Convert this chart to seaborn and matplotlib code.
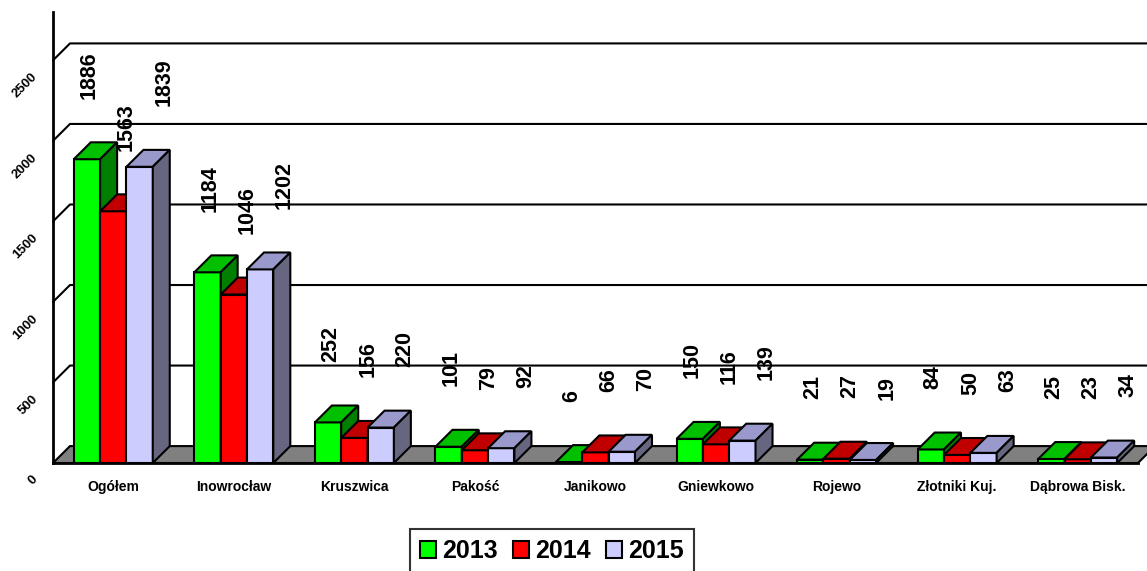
import numpy as np
import pandas as pd
import matplotlib
matplotlib.use("Agg")
import matplotlib.pyplot as plt
import seaborn as sns
from matplotlib.patches import Polygon, Patch
from matplotlib.transforms import ScaledTranslation

gminy = ["Ogółem", "Inowrocław", "Kruszwica", "Pakość", "Janikowo",
         "Gniewkowo", "Rojewo", "Złotniki Kuj.", "Dąbrowa Bisk."]
lata = ["2013", "2014", "2015"]
v2013 = [1886, 1184, 252, 101, 6, 150, 21, 84, 25]
v2014 = [1563, 1046, 156, 79, 66, 116, 27, 50, 23]
v2015 = [1839, 1202, 220, 92, 70, 139, 19, 63, 34]
y_ticks = [0, 500, 1000, 1500, 2000, 2500]

front = ["#00FF00", "#FF0000", "#CCCCFF"]
top = ["#00C000", "#C00000", "#9999CC"]
side = ["#007F00", "#800000", "#666680"]

df = pd.DataFrame({
    "gmina": gminy * 3,
    "rok": np.repeat(lata, len(gminy)),
    "wartosc": v2013 + v2014 + v2015,
})

sns.set_style("white")
plt.rcParams["font.family"] = ["Liberation Sans", "DejaVu Sans"]
plt.rcParams["text.color"] = "black"
plt.rcParams["xtick.color"] = "black"
plt.rcParams["ytick.color"] = "black"
plt.rcParams["axes.labelcolor"] = "black"

fig = plt.figure(figsize=(11.47, 5.71), dpi=100)
ax = fig.add_axes([53 / 1147, 108 / 571, 1085 / 1147, 451 / 571])

sns.barplot(data=df, x="gmina", y="wartosc", hue="rok", palette=front,
            width=0.655, gap=0, saturation=1, edgecolor="black",
            linewidth=1.5, legend=False, ax=ax)

ax.set_xlim(-0.5, len(gminy) - 0.5)
ax.set_ylim(0, 2800)

# depth of the fake 3d (17 px each way)
DX = 17 / 120.6
DY = 105
xr = len(gminy) - 0.5

# floor
ax.add_patch(Polygon([(-0.5, 0), (xr, 0), (xr + DX, DY), (-0.5 + DX, DY)],
                     closed=True, fc="#808080", ec="black", lw=1.5,
                     clip_on=False, zorder=1))

# back wall grid lines
for v in y_ticks[1:]:
    ax.plot([-0.5, -0.5 + DX, xr + DX + 1], [v, v + DY, v + DY],
            color="black", lw=1.5, clip_on=False, zorder=1.5)

for p in ax.patches[:]:
    if not isinstance(p, matplotlib.patches.Rectangle):
        continue
    w = p.get_width()
    x0 = p.get_x()
    x1 = x0 + w
    h = p.get_height()
    xc = x0 + w / 2
    j = int(round((xc - round(xc)) / w)) + 1
    z = 3 + j
    p.set_zorder(z)
    ax.add_patch(Polygon([(x0, h), (x1, h), (x1 + DX, h + DY), (x0 + DX, h + DY)],
                         closed=True, fc=top[j], ec="black", lw=1.5, zorder=z))
    ax.add_patch(Polygon([(x1, 0), (x1 + DX, DY), (x1 + DX, h + DY), (x1, h)],
                         closed=True, fc=side[j], ec="black", lw=1.5, zorder=z))
    ax.text(xc + DX / 2 + 0.04 + (j - 1) * 0.09, h + DY + 270, f"{h:.0f}",
            rotation=90, ha="center", va="bottom", fontsize=15.5,
            fontweight="bold", color="black", zorder=10)

for s in ["top", "right"]:
    ax.spines[s].set_visible(False)
for s in ["left", "bottom"]:
    ax.spines[s].set_linewidth(2)
    ax.spines[s].set_color("black")
    ax.spines[s].set_zorder(2)

ax.set_xlabel("")
ax.set_ylabel("")
ax.set_yticks(y_ticks)
ax.set_yticklabels([str(t) for t in y_ticks], fontsize=9.5, fontweight="bold",
                   rotation=45, rotation_mode="anchor", ha="right", va="center")
ax.tick_params(axis="y", length=7, width=1.5, pad=5.5, color="black")
for lbl in ax.get_yticklabels():
    lbl.set_transform(lbl.get_transform() + ScaledTranslation(0, -0.15, fig.dpi_scale_trans))

ax.set_xticks(range(len(gminy)))
ax.set_xticklabels(gminy, fontsize=10, fontweight="bold")
ax.set_xticks(np.arange(-0.5, len(gminy), 1), minor=True)
ax.tick_params(axis="x", which="major", length=0, pad=12)
ax.tick_params(axis="x", which="minor", length=8, width=1.5, color="black")

handles = [Patch(facecolor=c, edgecolor="black", linewidth=1.5, label=l)
           for c, l in zip(front, lata)]
leg = fig.legend(handles=handles, loc="upper center",
                 bbox_to_anchor=(552 / 1147, 1 - 529 / 571), ncol=3,
                 frameon=True, fancybox=False, edgecolor="black",
                 prop={"weight": "bold", "size": 18}, handlelength=0.65,
                 handleheight=0.65, handletextpad=0.25, columnspacing=0.6,
                 borderpad=0.4, borderaxespad=0)
leg.get_frame().set_linewidth(1.5)
for t in leg.get_texts():
    t.set_color("black")

fig.savefig("out.png", dpi=100)
